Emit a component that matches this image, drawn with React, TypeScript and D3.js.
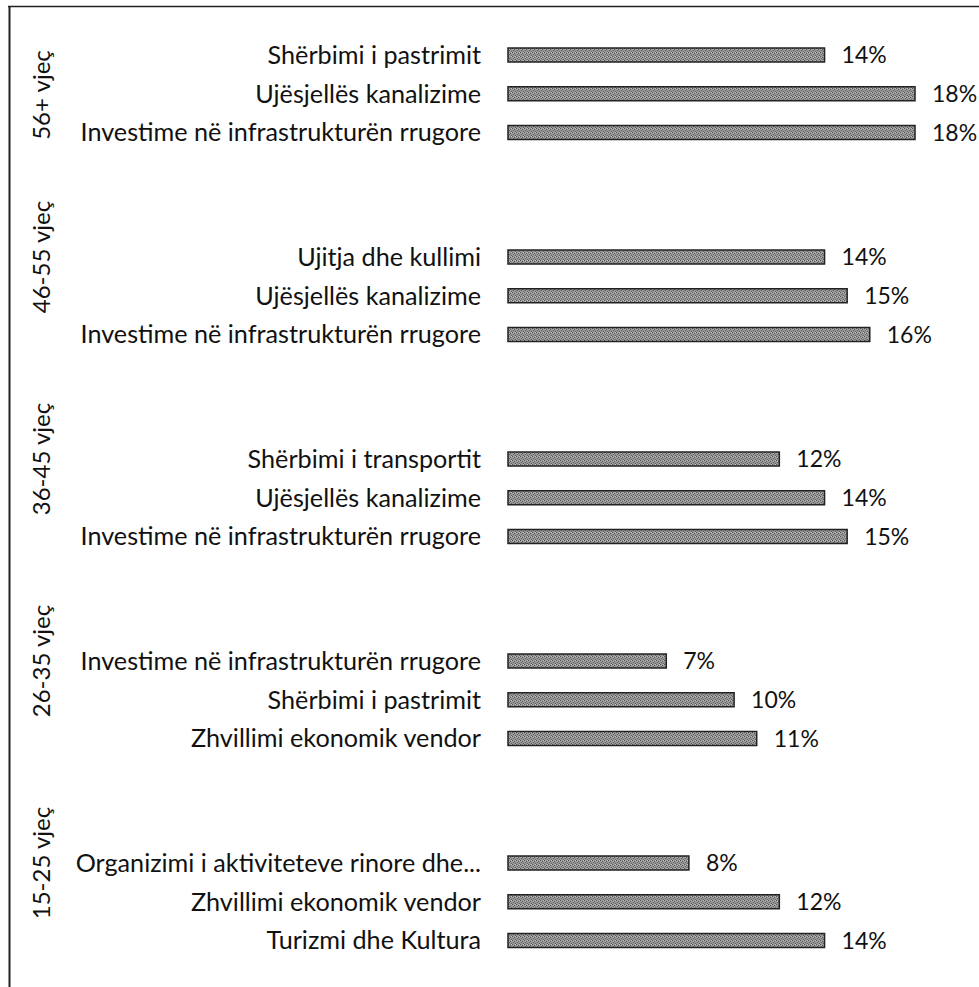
import React from "react";
import * as d3 from "d3";

const groups = ["56+ vjeç", "46-55 vjeç", "36-45 vjeç", "26-35 vjeç", "15-25 vjeç"];
const items56 = ["Shërbimi i pastrimit", "Ujësjellës kanalizime", "Investime në infrastrukturën rrugore"];
const values56 = [14, 18, 18];
const items46 = ["Ujitja dhe kullimi", "Ujësjellës kanalizime", "Investime në infrastrukturën rrugore"];
const values46 = [14, 15, 16];
const items36 = ["Shërbimi i transportit", "Ujësjellës kanalizime", "Investime në infrastrukturën rrugore"];
const values36 = [12, 14, 15];
const items26 = ["Investime në infrastrukturën rrugore", "Shërbimi i pastrimit", "Zhvillimi ekonomik vendor"];
const values26 = [7, 10, 11];
const items15 = ["Organizimi i aktiviteteve rinore dhe...", "Zhvillimi ekonomik vendor", "Turizmi dhe Kultura"];
const values15 = [8, 12, 14];

const groupItems = [items56, items46, items36, items26, items15];
const groupValues = [values56, values46, values36, values26, values15];

const W = 979;
const H = 987;
const FONT = "Lato, 'Liberation Sans', sans-serif";

export default function App() {
  const x = d3.scaleLinear().domain([0, 18]).range([508, 915]);
  const gy = d3.scalePoint<string>().domain(groups).range([55, 863]);
  const rowY = d3.scalePoint<number>().domain([0, 1, 2]).range([0, 77.5]);
  const labelX = 481;
  const fontSize = 25.2;
  const valueSize = 23;

  return (
    <svg
      width={W}
      height={H}
      style={{ position: "fixed", left: 0, top: 0, background: "#fff" }}
      fontFamily={FONT}
    >
      <defs>
        <pattern id="dither" width="4" height="4" patternUnits="userSpaceOnUse">
          <rect width="4" height="4" fill="#979797" />
          <rect x="0" y="0" width="1" height="1" fill="#555" />
          <rect x="2" y="1" width="1" height="1" fill="#555" />
          <rect x="1" y="2" width="1" height="1" fill="#606060" />
          <rect x="3" y="3" width="1" height="1" fill="#606060" />
          <rect x="3" y="0" width="1" height="1" fill="#c0c0c0" />
          <rect x="1" y="1" width="1" height="1" fill="#bcbcbc" />
        </pattern>
      </defs>
      <rect width={W} height={H} fill="#fff" />
      <line x1={8} x2={W} y1={6.5} y2={6.5} stroke="#222" strokeWidth={1.5} />
      <line x1={9.5} x2={9.5} y1={6} y2={H} stroke="#222" strokeWidth={2} />
      {groups.map((g, gi) => {
        const y0 = gy(g) as number;
        const items = groupItems[gi];
        const vals = groupValues[gi];
        const labelCenter = Math.max(y0, 95);
        return (
          <g key={g}>
            <text
              transform={`translate(50,${labelCenter}) rotate(-90)`}
              textAnchor="middle"
              fontSize={24}
              fill="#111"
            >
              {g}
            </text>
            {items.map((it, i) => {
              const cy = y0 + (rowY(i) as number);
              const v = vals[i];
              return (
                <g key={it + i}>
                  <text
                    x={labelX}
                    y={cy}
                    dy="0.35em"
                    textAnchor="end"
                    fontSize={fontSize}
                    fill="#111"
                  >
                    {it}
                  </text>
                  <rect
                    x={x(0)}
                    y={cy - 7}
                    width={x(v) - x(0)}
                    height={14}
                    fill="url(#dither)"
                    stroke="#222"
                    strokeWidth={1.5}
                  />
                  <text
                    x={x(v) + 17}
                    y={cy}
                    dy="0.35em"
                    fontSize={valueSize}
                    fill="#111"
                  >
                    {v + "%"}
                  </text>
                </g>
              );
            })}
          </g>
        );
      })}
    </svg>
  );
}
